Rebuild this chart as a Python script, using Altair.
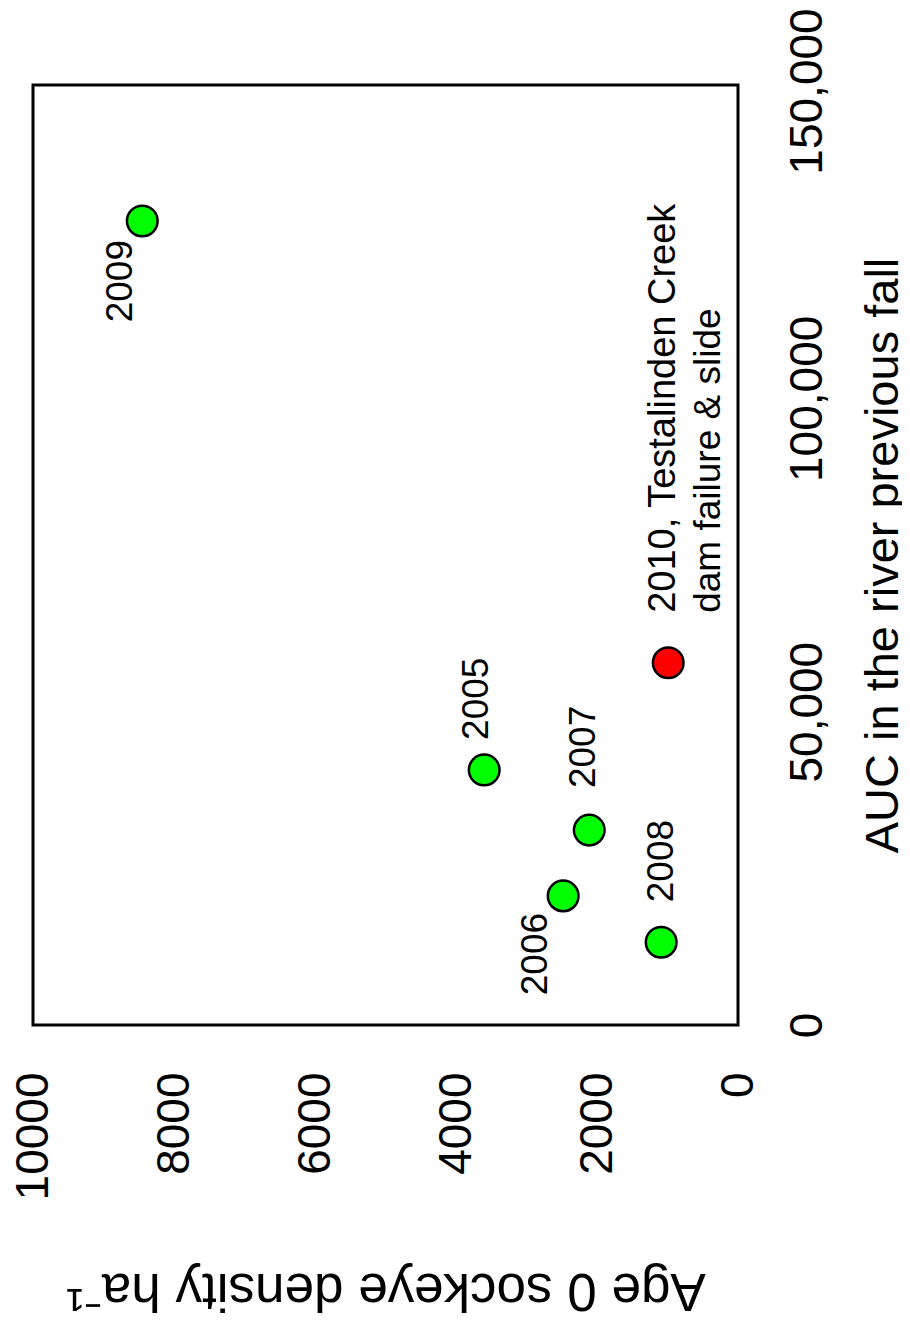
import altair as alt
import pandas as pd

# ---- data ----
years = ["2005", "2006", "2007", "2008", "2009", "2010"]
density = [3600, 2480, 2110, 1090, 8450, 990]          # Age 0 sockeye density ha-1
auc = [40700, 20600, 31100, 13200, 128300, 57800]       # AUC in the river previous fall
event = ["normal", "normal", "normal", "normal", "normal", "slide"]
labels = ["2005", "2006", "2007", "2008", "2009", "2010, Testalinden Creek"]
notes = ["", "", "", "", "", "dam failure & slide"]

density_ticks = [0, 2000, 4000, 6000, 8000, 10000]
auc_ticks = [0, 50000, 100000, 150000]

df = pd.DataFrame({"year": years, "density": density, "auc": auc,
                   "event": event, "label": labels, "note": notes})

FONT = "Arial, Liberation Sans, sans-serif"

base = alt.Chart(df).encode(
    x=alt.X("density:Q",
            scale=alt.Scale(domain=[0, 10000], reverse=True, nice=False, zero=False),
            axis=alt.Axis(values=density_ticks, format="d", orient="bottom",
                          labelAngle=270, labelAlign="right", labelBaseline="middle",
                          labelPadding=47, labelFontSize=46, labelFont=FONT,
                          labelColor="black", labelFlush=False, labelOverlap=False,
                          ticks=False, tickSize=0, domain=False, grid=False,
                          title="Age 0 sockeye density ha\u207b\u00b9",
                          titleAngle=180, titleAlign="center", titleBaseline="alphabetic",
                          titleX=352.5, titleY=248, titleFontSize=53, titleFont=FONT,
                          titleFontWeight="normal", titleColor="black")),
    y=alt.Y("auc:Q",
            scale=alt.Scale(domain=[0, 150000], nice=False),
            axis=alt.Axis(values=auc_ticks, format=",d", orient="right",
                          labelAngle=270, labelAlign="center", labelBaseline="top",
                          labelPadding=47, labelFontSize=46, labelFont=FONT,
                          labelColor="black", labelFlush=False, labelOverlap=False,
                          labelOffset={"condition": {"test": "datum.value == 150000", "value": 6},
                                       "value": 0},
                          ticks=False, tickSize=0, domain=False, grid=False,
                          title="AUC in the river previous fall",
                          titleAngle=270, titleAlign="center", titleBaseline="alphabetic",
                          titleX=159, titleY=470, titleFontSize=47, titleFont=FONT,
                          titleFontWeight="normal", titleColor="black")),
)

points = base.mark_circle(size=940, opacity=1, stroke="black", strokeWidth=2.5).encode(
    color=alt.Color("event:N",
                    scale=alt.Scale(domain=["normal", "slide"], range=["#00FF00", "#FF0000"]),
                    legend=None)
)

# label placement (align, dx, dy, fontSize) in the rotated text frame
placement = {
    "2005": ("left", 30, 4, 37),
    "2006": ("right", -17, -16, 37),
    "2007": ("left", 42, 6, 37),
    "2008": ("left", 40, 12, 37),
    "2009": ("right", -19, -10, 37),
    "2010": ("left", 50, 7, 38),
}

layers = [points]
for yr in years:
    al, ddx, ddy, fs = placement[yr]
    layers.append(
        base.mark_text(angle=270, align=al, baseline="alphabetic", dx=ddx, dy=ddy,
                       fontSize=fs, font=FONT, color="black")
        .encode(text="label:N")
        .transform_filter(alt.datum.year == yr)
    )

# second line of the 2010 note
layers.append(
    base.mark_text(angle=270, align="left", baseline="alphabetic", dx=50, dy=52,
                   fontSize=37, font=FONT, color="black")
    .encode(text="note:N")
    .transform_filter(alt.datum.note != "")
)

chart = alt.layer(*layers).properties(
    width=705, height=940,
    autosize=alt.AutoSizeParams(type="none"),
    padding={"left": 25, "top": 77, "right": 164, "bottom": 296},
).configure_view(stroke="black", strokeWidth=3)

chart.save("out.html", embed_options={"renderer": "svg", "actions": False})
